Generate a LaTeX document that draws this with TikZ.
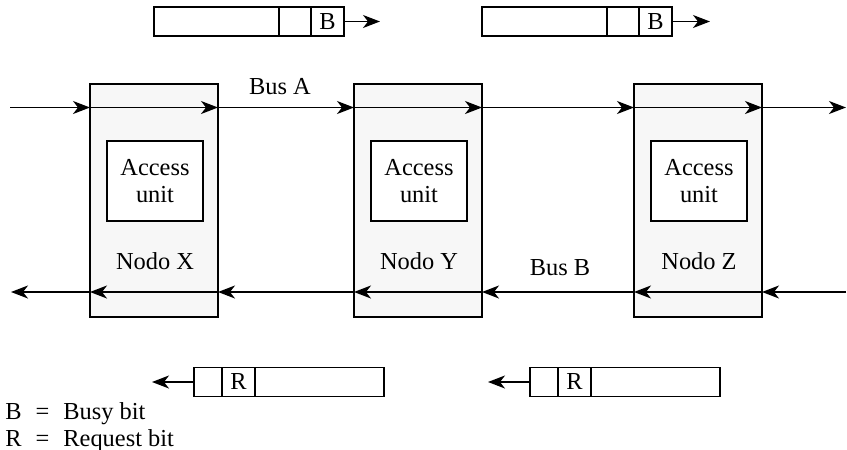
\documentclass[tikz,border=0pt]{standalone}
\usepackage{fontspec}
\setmainfont{Liberation Serif}
\usetikzlibrary{arrows.meta,positioning}
\definecolor{nodegray}{RGB}{247,247,247}

\tikzset{
  bus/.style={line width=0.75pt, -{Stealth[length=8.5pt,width=6.5pt,inset=2.5pt]}},
  nodebox/.style={draw, line width=1.2pt, fill=nodegray, minimum width=64pt, minimum height=116.5pt, inner sep=0pt, outer sep=0pt},
  accbox/.style={draw, line width=0.9pt, fill=white, minimum width=48pt, minimum height=40pt, align=center, inner sep=0pt},
  cell/.style={draw, line width=0.9pt, minimum height=14.5pt, inner sep=0pt, outer sep=0pt},
  lbl/.style={inner sep=0pt}
}

\begin{document}
\begin{tikzpicture}[x=0.5pt, y=-0.5pt, font=\fontsize{12.2}{13.5}\selectfont]
    \useasboundingbox (0,0) rectangle (847,450);
    % station boxes
    \node[nodebox] (nodex) at (154,200.5) {};
    \node[nodebox] (nodey) at (418,200.5) {};
    \node[nodebox] (nodez) at (698,200.5) {};
    \node[accbox] (accx) at (155,181) {Access\\unit};
    \node[accbox] (accy) at (419,181) {Access\\unit};
    \node[accbox] (accz) at (699,181) {Access\\unit};
    \node[lbl] (labx) at (155,261) {Nodo X};
    \node[lbl] (laby) at (419,261) {Nodo Y};
    \node[lbl] (labz) at (699,261) {Nodo Z};

    % bus A (left to right)
    \coordinate (ain) at (10,107.5);
    \coordinate (aout) at (846,107.5);
    \draw[bus] (ain) -- (nodex.west |- ain);
    \draw[bus] (nodex.west |- ain) -- (nodex.east |- ain);
    \draw[bus] (nodex.east |- ain) -- (nodey.west |- ain);
    \draw[bus] (nodey.west |- ain) -- (nodey.east |- ain);
    \draw[bus] (nodey.east |- ain) -- (nodez.west |- ain);
    \draw[bus] (nodez.west |- ain) -- (nodez.east |- ain);
    \draw[bus] (nodez.east |- ain) -- (aout);
    \node[lbl] (busa) at (280,87) {Bus A};

    % bus B (right to left)
    \coordinate (bin) at (846,292);
    \coordinate (bout) at (11,292);
    \draw[bus] (bin) -- (nodez.east |- bin);
    \draw[bus] (nodez.east |- bin) -- (nodez.west |- bin);
    \draw[bus] (nodez.west |- bin) -- (nodey.east |- bin);
    \draw[bus] (nodey.east |- bin) -- (nodey.west |- bin);
    \draw[bus] (nodey.west |- bin) -- (nodex.east |- bin);
    \draw[bus] (nodex.east |- bin) -- (nodex.west |- bin);
    \draw[bus] (nodex.west |- bin) -- (bout);
    \node[lbl] (busb) at (560,268) {Bus B};

    % slots on bus A
    \node[cell, minimum width=62.5pt] (sa1) at (216.5,21.5) {};
    \node[cell, minimum width=16pt, right=0pt of sa1] (sa2) {};
    \node[cell, minimum width=16.5pt, right=0pt of sa2] (sa3) {B};
    \coordinate (sa4) at (380,21.5);
    \draw[bus] (sa3) -- (sa4);
    \node[cell, minimum width=62.5pt] (sb1) at (544.5,21.5) {};
    \node[cell, minimum width=16pt, right=0pt of sb1] (sb2) {};
    \node[cell, minimum width=16.5pt, right=0pt of sb2] (sb3) {B};
    \coordinate (sb4) at (710,21.5);
    \draw[bus] (sb3) -- (sb4);

    % slots on bus B
    \node[cell, minimum width=14pt] (ra1) at (208,382) {};
    \node[cell, minimum width=16.5pt, right=0pt of ra1] (ra2) {R};
    \node[cell, minimum width=64.5pt, right=0pt of ra2] (ra3) {};
    \coordinate (ra0) at (152,382);
    \draw[bus] (ra1) -- (ra0);
    \node[cell, minimum width=14pt] (rb1) at (544,382) {};
    \node[cell, minimum width=16.5pt, right=0pt of rb1] (rb2) {R};
    \node[cell, minimum width=64.5pt, right=0pt of rb2] (rb3) {};
    \coordinate (rb0) at (488,382);
    \draw[bus] (rb1) -- (rb0);

    % legend
    \node[lbl, anchor=north west, align=left] (legend) at (5,400)
      {\begin{tabular}{@{}l@{\hspace{7pt}}c@{\hspace{7pt}}l@{}}
        B & = & Busy bit\\
        R & = & Request bit
      \end{tabular}};
\end{tikzpicture}
\end{document}
